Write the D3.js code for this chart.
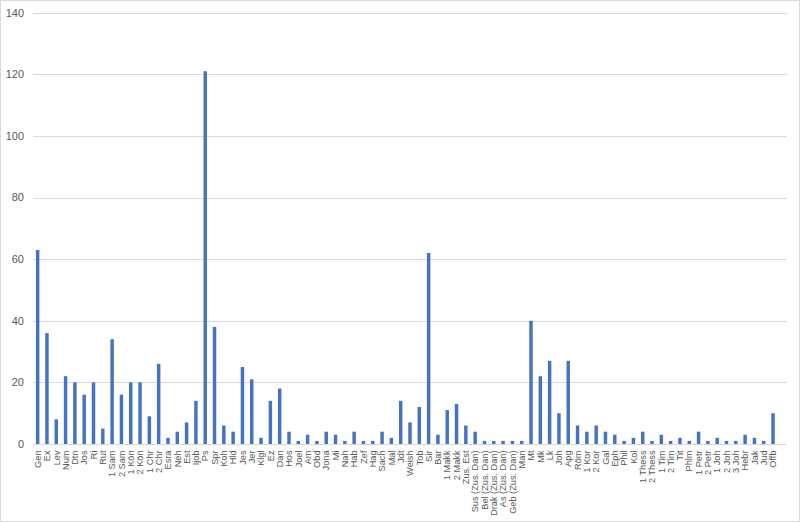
<!DOCTYPE html>
<html><head><meta charset="utf-8">
<script src="https://cdn.jsdelivr.net/npm/d3@7"></script>
<style>body{margin:0;background:#fff}svg{display:block}</style>
</head><body><svg id="c" width="800" height="522"></svg>
<script>
const categories = ["Gen","Ex","Lev","Num","Dtn","Jos","Ri","Rut","1 Sam","2 Sam","1 Kön","2 Kön","1 Chr","2 Chr","Esra","Neh","Est","Ijob","Ps","Spr","Koh","Hld","Jes","Jer","Klgl","Ez","Dan","Hos","Joel","Am","Obd","Jona","Mi","Nah","Hab","Zef","Hag","Sach","Mal","Jdt","Weish","Tob","Sir","Bar","1 Makk","2 Makk","Zus. Est","Sus (Zus. Dan)","Bel (Zus. Dan)","Drak (Zus. Dan)","As (Zus. Dan)","Geb (Zus. Dan)","Man","Mt","Mk","Lk","Joh","Apg","Röm","1 Kor","2 Kor","Gal","Eph","Phil","Kol","1 Thess","2 Thess","1 Tim","2 Tim","Tit","Phlm","1 Petr","2 Petr","1 Joh","2 Joh","3 Joh","Hebr","Jak","Jud","Offb"];
const values = [63,36,8,22,20,16,20,5,34,16,20,20,9,26,2,4,7,14,121,38,6,4,25,21,2,14,18,4,1,3,1,4,3,1,4,1,1,4,2,14,7,12,62,3,11,13,6,4,1,1,1,1,1,40,22,27,10,27,6,4,6,4,3,1,2,4,1,3,1,2,1,4,1,2,1,1,3,2,1,10];
const yTicks = [0,20,40,60,80,100,120,140];

const svg = d3.select("#c");
svg.append("rect").attr("x",0.5).attr("y",0.5).attr("width",799).attr("height",521)
  .attr("fill","#fff").attr("stroke","#d9d9d9");

const pLeft = 33, pRight = 787, pTop = 12.7, pBottom = 444;
const slots = categories.length + 1; // trailing empty category
const step = (pRight-pLeft)/slots;
const x = d3.scaleBand().domain(categories).range([pLeft, pLeft+step*categories.length]).paddingInner(0.63).paddingOuter(0.315);
const y = d3.scaleLinear().domain([0,140]).range([pBottom, pTop]);

const font = "'Liberation Sans Narrow','Liberation Sans',Arial,sans-serif";

svg.append("g").selectAll("line").data(yTicks).join("line")
  .attr("x1",pLeft).attr("x2",pRight)
  .attr("y1",d=>Math.round(y(d))+0.5).attr("y2",d=>Math.round(y(d))+0.5)
  .attr("stroke","#d9d9d9").attr("stroke-width",1);

svg.append("g").selectAll("text").data(yTicks).join("text")
  .attr("x",24).attr("y",d=>y(d)).attr("dy","0.35em").attr("text-anchor","end")
  .attr("font-family",font).attr("font-size",11).attr("fill","#595959").text(d=>d);

svg.append("g").selectAll("rect").data(values).join("rect")
  .attr("x",(d,i)=>x(categories[i])).attr("width",x.bandwidth())
  .attr("y",d=>y(d)).attr("height",d=>y(0)-y(d)).attr("fill","#4472c4");

svg.append("g").selectAll("text").data(categories).join("text")
  .attr("transform",d=>`translate(${x(d)+x.bandwidth()/2},450.5) rotate(-90)`)
  .attr("dy","0.35em").attr("text-anchor","end")
  .attr("font-family",font).attr("font-size",9.2).attr("fill","#595959").text(d=>d);
</script></body></html>
